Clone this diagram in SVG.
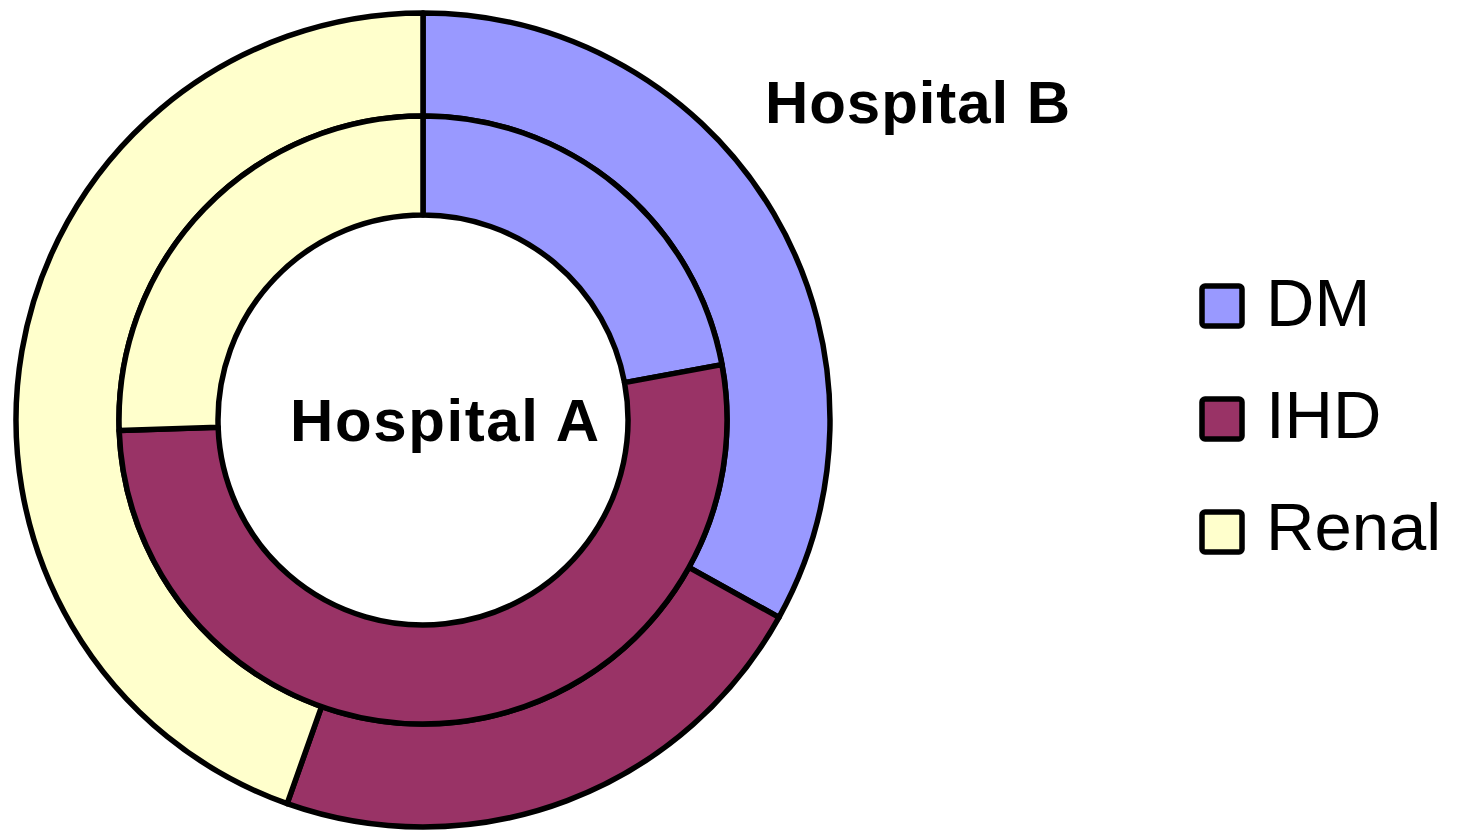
<svg xmlns="http://www.w3.org/2000/svg" width="1474" height="832" viewBox="0 0 1474 832">
<style>
.seg{stroke:#000;stroke-width:5.5;stroke-linejoin:round}
.dm{fill:#9999FF}
.ihd{fill:#993366}
.renal{fill:#FFFFCC}
.title{font-family:"Liberation Sans",Arial,sans-serif;font-weight:bold;font-size:60px;fill:#000}
.leg{font-family:"Liberation Sans",Arial,sans-serif;font-size:67px;fill:#000}
.box{stroke:#000;stroke-width:5.5;stroke-linejoin:round}
</style>
<rect width="1474" height="832" fill="#fff"/>
<g id="hospitalB-ring">
<path class="seg dm" d="M423,13 A407,407 0 0 1 778.97,617.32 L688.88,567.38 A304,304 0 0 0 423,116 Z"/>
<path class="seg ihd" d="M778.97,617.32 A407,407 0 0 1 287.14,803.65 L321.52,706.56 A304,304 0 0 0 688.88,567.38 Z"/>
<path class="seg renal" d="M287.14,803.65 A407,407 0 0 1 423,13 L423,116 A304,304 0 0 0 321.52,706.56 Z"/>
</g>
<g id="hospitalA-ring">
<path class="seg dm" d="M423,116 A304,304 0 0 1 721.91,364.60 L624.57,382.64 A205,205 0 0 0 423,215 Z"/>
<path class="seg ihd" d="M721.91,364.60 A304,304 0 1 1 119.19,430.61 L218.13,427.15 A205,205 0 1 0 624.57,382.64 Z"/>
<path class="seg renal" d="M119.19,430.61 A304,304 0 0 1 423,116 L423,215 A205,205 0 0 0 218.13,427.15 Z"/>
</g>
<g id="label-hospitalB"><text class="title" x="765" y="123" textLength="305" lengthAdjust="spacing">Hospital B</text></g>
<g id="label-hospitalA"><text class="title" x="290" y="441" textLength="309" lengthAdjust="spacing">Hospital A</text></g>
<g id="legend">
<g id="legend-dm"><rect class="box dm" x="1202" y="286" width="40" height="40" rx="3"/><text class="leg" x="1266" y="326">DM</text></g>
<g id="legend-ihd"><rect class="box ihd" x="1202" y="399" width="40" height="40" rx="3"/><text class="leg" x="1266" y="438">IHD</text></g>
<g id="legend-renal"><rect class="box renal" x="1202" y="512" width="40" height="40" rx="3"/><text class="leg" x="1266" y="550">Renal</text></g>
</g>
</svg>
